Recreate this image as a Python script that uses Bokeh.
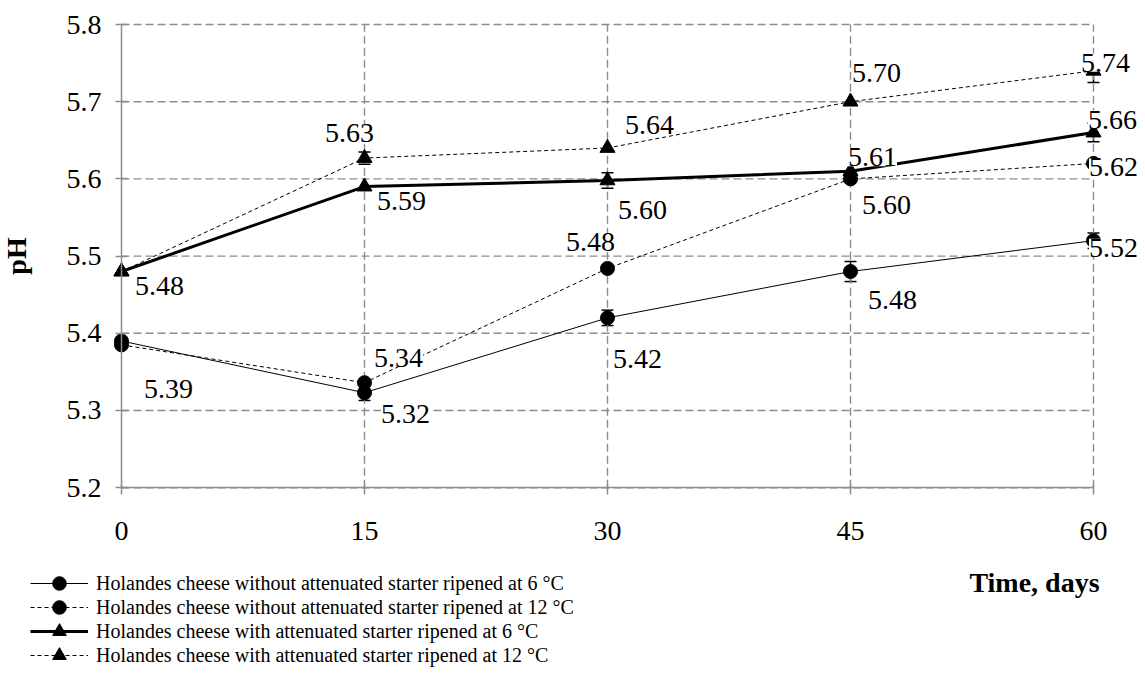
from bokeh.plotting import figure
from bokeh.models import (ColumnDataSource, LabelSet, Whisker, TeeHead, Legend, LegendItem,
                          Label, FixedTicker, Range1d, LinearAxis)
from bokeh.core.properties import value
from bokeh.embed import file_html
from bokeh.resources import INLINE

# ---- data ----
days = [0, 15, 30, 45, 60]
y_ticks = [5.2, 5.3, 5.4, 5.5, 5.6, 5.7, 5.8]
y_tick_labels = ["5.2", "5.3", "5.4", "5.5", "5.6", "5.7", "5.8"]

series_names = [
    "Holandes cheese without attenuated starter ripened at 6 °C",
    "Holandes cheese without attenuated starter ripened at 12 °C",
    "Holandes cheese with attenuated starter ripened at 6 °C",
    "Holandes cheese with attenuated starter ripened at 12 °C",
]
ph_without_6 = [5.39, 5.323, 5.42, 5.48, 5.52]
ph_without_12 = [5.385, 5.336, 5.484, 5.60, 5.62]
ph_with_6 = [5.48, 5.59, 5.598, 5.61, 5.66]
ph_with_12 = [5.48, 5.627, 5.64, 5.70, 5.74]

err_without_6 = [0.0, 0.010, 0.010, 0.013, 0.010]
err_without_12 = [0.0, 0.0, 0.0, 0.0, 0.0]
err_with_6 = [0.0, 0.0, 0.010, 0.0, 0.012]
err_with_12 = [0.0, 0.008, 0.0, 0.0, 0.015]

lab_without_6 = ["5.39", "5.32", "5.42", "5.48", "5.52"]
lab_without_12 = ["", "5.34", "5.48", "5.60", "5.62"]
lab_with_6 = ["5.48", "5.59", "5.60", "5.61", "5.66"]
lab_with_12 = ["", "5.63", "5.64", "5.70", "5.74"]

x_title = "Time, days"
y_title = "pH"

# ---- label placement (screen px, +y = up) ----
off_without_6 = [(47, -48), (41, -21), (30, -41), (42, -28), (20, -7)]
off_without_12 = [(0, 0), (34, 25), (-17, 26), (36, -26), (20, -4)]
off_with_6 = [(38, -14), (37, -14), (35, -30), (22, 14), (19, 13)]
off_with_12 = [(0, 0), (-15, 25), (42, 23), (26, 29), (12, 8)]

FONT = "Liberation Serif"
GRID = "#8c8c8c"
W, H = 1145, 675

# the frame covers the whole canvas so that texts outside the data area are not clipped
p = figure(width=W, height=H, x_range=Range1d(-7.469, 63.21), y_range=Range1d(4.9567, 5.8311),
           output_backend="svg", toolbar_location=None, min_border=0,
           x_axis_location=None, y_axis_location=None)
p.outline_line_color = None
p.background_fill_color = "white"
p.border_fill_color = "white"
p.xgrid.visible = False
p.ygrid.visible = False

# grid lines (bounded to the data area)
n_h = len(y_ticks)
p.segment(x0=[days[0]] * n_h, x1=[days[-1]] * n_h, y0=y_ticks, y1=y_ticks,
          line_color=GRID, line_width=1.4, line_dash="8 4")
n_v = len(days) - 1
p.segment(x0=days[1:], x1=days[1:], y0=[y_ticks[0]] * n_v, y1=[y_ticks[-1]] * n_v,
          line_color=GRID, line_width=1.4, line_dash="8 4")

# axes at fixed data locations
xaxis = LinearAxis(fixed_location=y_ticks[0], bounds=(days[0], days[-1]),
                   ticker=FixedTicker(ticks=days))
yaxis = LinearAxis(fixed_location=days[0], bounds=(y_ticks[0], y_ticks[-1]),
                   ticker=FixedTicker(ticks=y_ticks))
yaxis.major_label_overrides = {t: l for t, l in zip(y_ticks, y_tick_labels)}
for ax in (xaxis, yaxis):
    ax.axis_line_color = GRID
    ax.axis_line_width = 1.5
    ax.major_tick_line_color = GRID
    ax.major_tick_line_width = 1.5
    ax.minor_tick_line_color = None
    ax.major_label_text_font = FONT
    ax.major_label_text_font_size = "28px"
    ax.major_label_text_color = "black"
xaxis.major_tick_in = 3
xaxis.major_tick_out = 7
xaxis.major_label_standoff = 27
yaxis.major_tick_in = 6
yaxis.major_tick_out = 6
yaxis.major_label_standoff = 14
yaxis.axis_label = y_title
yaxis.axis_label_text_font = FONT
yaxis.axis_label_text_font_style = "bold"
yaxis.axis_label_text_font_size = "28px"
yaxis.axis_label_text_color = "black"
yaxis.axis_label_standoff = 32
p.add_layout(xaxis, "below")
p.add_layout(yaxis, "left")

series = [
    (ph_without_6, err_without_6, lab_without_6, off_without_6, "circle", 1, "solid"),
    (ph_without_12, err_without_12, lab_without_12, off_without_12, "circle", 1, "4 3"),
    (ph_with_6, err_with_6, lab_with_6, off_with_6, "triangle", 3, "solid"),
    (ph_with_12, err_with_12, lab_with_12, off_with_12, "triangle", 1, "4 3"),
]

ROW0, PITCH, GLYPH_H = 583, 24, 34   # legend row centres (px from top)
for k, (name, (vals, errs, labs, offs, marker, lw, dash)) in enumerate(zip(series_names, series)):
    lr = p.line(days, vals, line_color="black", line_width=lw, line_dash=dash)
    size = 14 if marker == "circle" else 15
    sr = p.scatter(days, vals, marker=marker, size=size, fill_color="black", line_color="black")

    idx = [i for i, e in enumerate(errs) if e > 0]
    if idx:
        wsrc = ColumnDataSource(dict(
            base=[days[i] for i in idx],
            upper=[vals[i] + errs[i] for i in idx],
            lower=[vals[i] - errs[i] for i in idx]))
        w = Whisker(source=wsrc, base="base", upper="upper", lower="lower",
                    line_color="black", line_width=1.5,
                    upper_head=TeeHead(size=12, line_width=1.5, line_color="black"),
                    lower_head=TeeHead(size=12, line_width=1.5, line_color="black"))
        p.add_layout(w)

    li = [i for i, t in enumerate(labs) if t]
    lsrc = ColumnDataSource(dict(
        x=[days[i] for i in li], y=[vals[i] for i in li], text=[labs[i] for i in li],
        dx=[offs[i][0] for i in li], dy=[offs[i][1] for i in li]))
    ls = LabelSet(source=lsrc, x="x", y="y", text="text", x_offset="dx", y_offset="dy",
                  text_align="center", text_baseline="middle", text_font=value(FONT),
                  text_font_size=value("28px"), text_color=value("black"),
                  background_fill_color="white")
    p.add_layout(ls)

    # one single-row legend per series, stacked tightly
    row_c = ROW0 + k * PITCH
    legend = Legend(items=[LegendItem(label=name, renderers=[lr, sr])],
                    location=(30, H - (row_c + GLYPH_H // 2)), orientation="vertical",
                    label_text_font=FONT, label_text_font_size="20px", label_text_color="black",
                    glyph_width=58, glyph_height=GLYPH_H, label_height=20, label_standoff=8,
                    spacing=0, padding=0, margin=0, border_line_color=None,
                    background_fill_alpha=0)
    p.add_layout(legend)

p.add_layout(Label(x=days[-1], y=y_ticks[0], x_offset=-59, y_offset=-95, text=x_title,
                   text_align="center", text_baseline="middle", text_font=FONT,
                   text_font_style="bold", text_font_size="28px", text_color="black"))

open("out.html", "w").write(file_html(p, INLINE))
